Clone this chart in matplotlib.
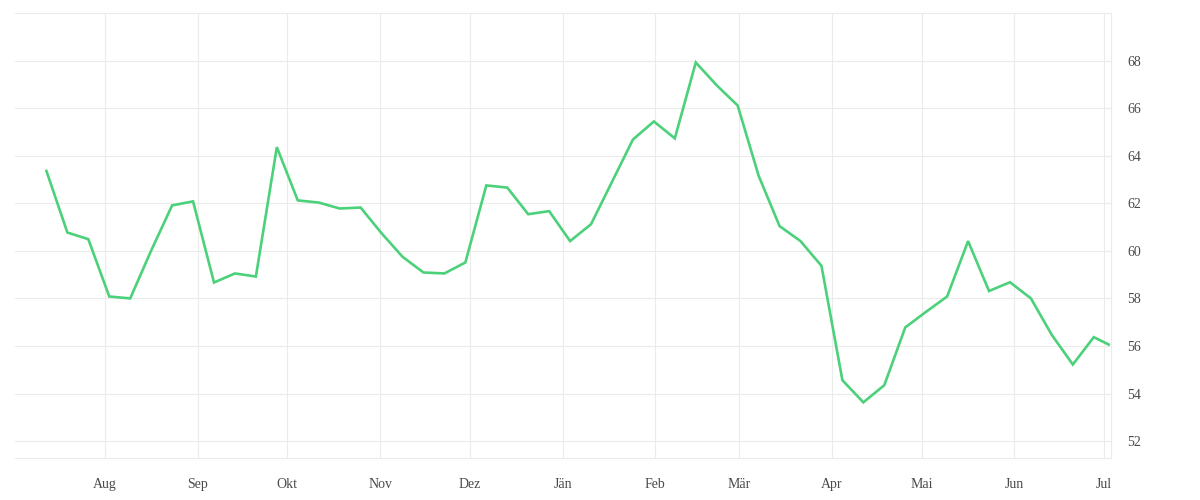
import numpy as np
import pandas as pd
import matplotlib
matplotlib.use("Agg")
import matplotlib.pyplot as plt
import matplotlib.dates as mdates

# weekly values, last point is a partial week
start_date = "2022-07-12 12:00"
n_weeks = 51
last_date = "2023-07-02 12:00"
values = [63.36, 60.77, 60.49, 58.08, 58.00, 60.01, 61.91, 62.08, 58.67, 59.05,
          58.92, 64.36, 62.12, 62.03, 61.78, 61.82, 60.74, 59.75, 59.09, 59.05,
          59.51, 62.75, 62.66, 61.54, 61.67, 60.41, 61.12, 62.90, 64.68, 65.44,
          64.73, 67.92, 66.96, 66.11, 63.16, 61.04, 60.41, 59.37, 54.56, 53.63,
          54.35, 56.78, 57.44, 58.08, 60.41, 58.31, 58.68, 58.00, 56.46, 55.22,
          56.37, 56.06]
month_labels = ["Aug", "Sep", "Okt", "Nov", "Dez", "Jän", "Feb", "Mär",
                "Apr", "Mai", "Jun", "Jul"]
y_ticks = [52, 54, 56, 58, 60, 62, 64, 66, 68]

dates = list(pd.date_range(start_date, periods=n_weeks, freq="7D")) + [pd.Timestamp(last_date)]
month_ticks = pd.date_range("2022-08-01", periods=12, freq="MS")

grid_col = "#ebebeb"
text_col = "#4a4a4a"

fig = plt.figure(figsize=(12, 5), dpi=100)
ax = fig.add_axes([0.0125, 0.084, 0.913, 0.89])

ax.plot(dates, values, color="#4cd17b", linewidth=1.9, solid_joinstyle="miter")

ax.set_xlim(pd.Timestamp("2022-07-02"), pd.Timestamp("2023-07-03 03:00"))
ax.set_ylim(51.29, 70.0)

ax.set_xticks(month_ticks)
ax.set_xticklabels(month_labels)
ax.set_yticks(y_ticks)
ax.yaxis.tick_right()

ax.grid(True, color=grid_col, linewidth=0.8)
ax.set_axisbelow(True)
ax.tick_params(length=0, labelsize=10, colors=text_col)
ax.tick_params(axis="x", pad=14.5)
ax.tick_params(axis="y", pad=12)
for lab in ax.get_xticklabels():
    lab.set_family(["Liberation Serif", "DejaVu Serif"])
for lab in ax.get_yticklabels():
    lab.set_family(["Liberation Serif", "DejaVu Serif"])
    lab.set_horizontalalignment("left")

for side in ["top", "bottom", "right"]:
    ax.spines[side].set_color(grid_col)
    ax.spines[side].set_linewidth(0.8)
ax.spines["left"].set_visible(False)

fig.savefig("out.png", dpi=100, facecolor="white")
